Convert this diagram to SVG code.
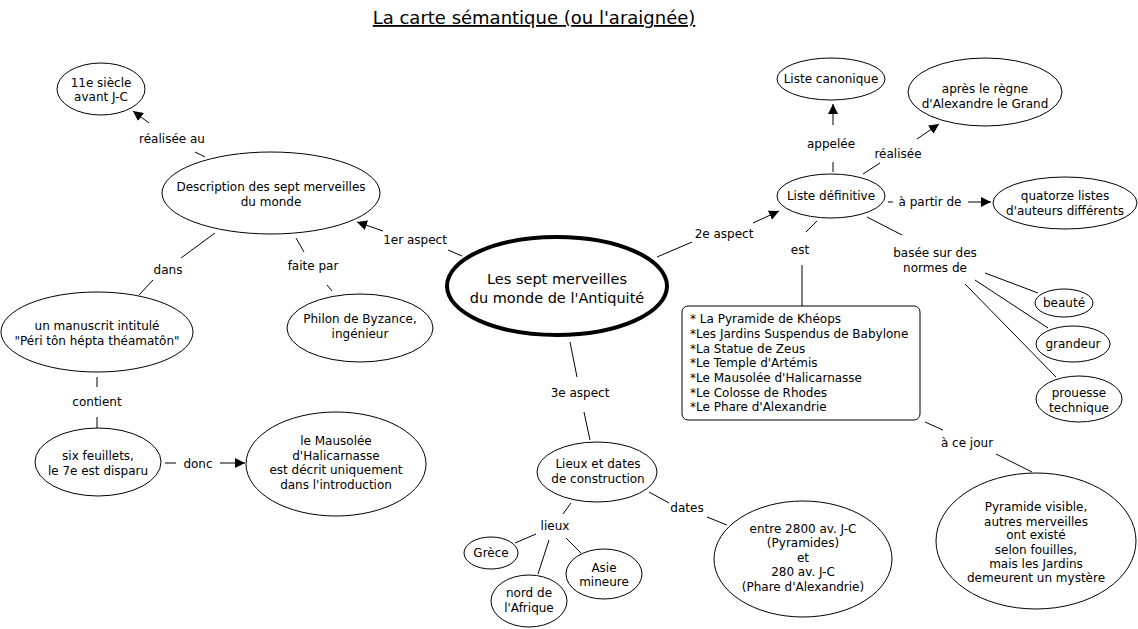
<svg xmlns="http://www.w3.org/2000/svg" width="1138" height="629" viewBox="0 0 1138 629">
<style>
text{font-family:"DejaVu Sans",Verdana,sans-serif;font-size:12px;fill:#000;text-anchor:middle}
.n{fill:#fff;stroke:#000;stroke-width:1}
.c line{stroke:#000;stroke-width:1}
.lst text{text-anchor:start}
</style>
<defs>
<marker id="ah" viewBox="0 0 10 10" refX="10" refY="5" markerWidth="10" markerHeight="10" markerUnits="userSpaceOnUse" orient="auto"><path d="M0,0 L10,5 L0,10 z" fill="#000"/></marker>
</defs>
<rect width="1138" height="629" fill="#fff"/>
<g id="title"><text x="534" y="24" style="font-size:18px;text-decoration:underline">La carte sémantique (ou l'araignée)</text></g>
<g class="c" id="connectors">
<line x1="149" y1="123" x2="133" y2="111" marker-end="url(#ah)"/>
<line x1="195" y1="152" x2="205" y2="157"/>
<line x1="383" y1="231" x2="357" y2="222" marker-end="url(#ah)"/>
<line x1="448" y1="250" x2="462" y2="256"/>
<line x1="215" y1="233" x2="181" y2="258"/>
<line x1="153" y1="280" x2="139" y2="295"/>
<line x1="296" y1="238" x2="304" y2="252"/>
<line x1="327" y1="285" x2="332" y2="291"/>
<line x1="97" y1="377" x2="97" y2="387"/>
<line x1="97" y1="417" x2="97" y2="429"/>
<line x1="165" y1="463" x2="176" y2="463"/>
<line x1="220" y1="463" x2="245" y2="463" marker-end="url(#ah)"/>
<line x1="833" y1="125" x2="833" y2="104" marker-end="url(#ah)"/>
<line x1="833" y1="162" x2="833" y2="172"/>
<line x1="917" y1="139" x2="939" y2="124" marker-end="url(#ah)"/>
<line x1="863" y1="174" x2="880" y2="163"/>
<line x1="888" y1="202" x2="893" y2="202"/>
<line x1="968" y1="202" x2="991" y2="202" marker-end="url(#ah)"/>
<line x1="753" y1="223" x2="779" y2="211" marker-end="url(#ah)"/>
<line x1="657" y1="257" x2="692" y2="242"/>
<line x1="817" y1="221" x2="806" y2="232"/>
<line x1="802" y1="265" x2="802" y2="306"/>
<line x1="867" y1="217" x2="902" y2="235"/>
<line x1="985" y1="273" x2="1038" y2="293"/>
<line x1="975" y1="280" x2="1048" y2="328"/>
<line x1="965" y1="284" x2="1056" y2="377"/>
<line x1="925" y1="422" x2="943" y2="430"/>
<line x1="996" y1="454" x2="1032" y2="472"/>
<line x1="570" y1="342" x2="577" y2="377"/>
<line x1="584" y1="412" x2="590" y2="440"/>
<line x1="649" y1="492" x2="669" y2="503"/>
<line x1="707" y1="517" x2="727" y2="525"/>
<line x1="571" y1="503" x2="563" y2="514"/>
<line x1="536" y1="534" x2="515" y2="543"/>
<line x1="549" y1="540" x2="538" y2="574"/>
<line x1="566" y1="538" x2="581" y2="553"/>
</g>
<g id="labels">
<text x="172" y="143">réalisée au</text>
<text x="415" y="244">1er aspect</text>
<text x="168" y="274">dans</text>
<text x="313" y="270">faite par</text>
<text x="97" y="406">contient</text>
<text x="198" y="468">donc</text>
<text x="831" y="148">appelée</text>
<text x="898" y="158">réalisée</text>
<text x="930" y="206">à partir de</text>
<text x="724" y="238">2e aspect</text>
<text x="800" y="254">est</text>
<text x="935" y="257">basée sur des</text>
<text x="935" y="272">normes de</text>
<text x="967" y="447">à ce jour</text>
<text x="580" y="397">3e aspect</text>
<text x="687" y="512">dates</text>
<text x="555" y="530">lieux</text>
</g>
<g id="central"><ellipse class="n" cx="557" cy="286" rx="110" ry="49" style="stroke-width:4"/><text x="557" y="284" style="font-size:14.5px">Les sept merveilles</text><text x="557" y="303" style="font-size:14.5px">du monde de l'Antiquité</text></g>
<g id="siecle"><ellipse class="n" cx="101" cy="89" rx="44" ry="26"/><text x="101" y="87">11e siècle</text><text x="101" y="101">avant J-C</text></g>
<g id="description"><ellipse class="n" cx="271" cy="193" rx="109" ry="41"/><text x="271" y="191">Description des sept merveilles</text><text x="271" y="206">du monde</text></g>
<g id="manuscrit"><ellipse class="n" cx="97" cy="332" rx="96" ry="40"/><text x="97" y="330">un manuscrit intitulé</text><text x="97" y="345">"Péri tôn hépta théamatôn"</text></g>
<g id="philon"><ellipse class="n" cx="360" cy="328" rx="73" ry="34"/><text x="360" y="323">Philon de Byzance,</text><text x="360" y="338">ingénieur</text></g>
<g id="feuillets"><ellipse class="n" cx="98" cy="462" rx="63" ry="34"/><text x="98" y="460">six feuillets,</text><text x="98" y="475">le 7e est disparu</text></g>
<g id="mausolee"><ellipse class="n" cx="336" cy="464" rx="90" ry="52"/><text x="336" y="445">le Mausolée</text><text x="336" y="460">d'Halicarnasse</text><text x="336" y="474">est décrit uniquement</text><text x="336" y="489">dans l'introduction</text></g>
<g id="canonique"><ellipse class="n" cx="831" cy="79" rx="54" ry="21"/><text x="831" y="83">Liste canonique</text></g>
<g id="regne"><ellipse class="n" cx="985" cy="92" rx="77" ry="34"/><text x="985" y="93">après le règne</text><text x="985" y="108">d'Alexandre le Grand</text></g>
<g id="definitive"><ellipse class="n" cx="831" cy="196" rx="54" ry="22"/><text x="831" y="200">Liste définitive</text></g>
<g id="quatorze"><ellipse class="n" cx="1065" cy="203" rx="72" ry="26"/><text x="1065" y="200">quatorze listes</text><text x="1065" y="215">d'auteurs différents</text></g>
<g id="liste" class="lst"><rect class="n" x="682" y="306" width="238" height="114" rx="6"/>
<text x="690" y="323">* La Pyramide de Khéops</text>
<text x="690" y="338">*Les Jardins Suspendus de Babylone</text>
<text x="690" y="353">*La Statue de Zeus</text>
<text x="690" y="367">*Le Temple d'Artémis</text>
<text x="690" y="382">*Le Mausolée d'Halicarnasse</text>
<text x="690" y="397">*Le Colosse de Rhodes</text>
<text x="690" y="411">*Le Phare d'Alexandrie</text></g>
<g id="beaute"><ellipse class="n" cx="1064" cy="303" rx="29" ry="14"/><text x="1064" y="307">beauté</text></g>
<g id="grandeur"><ellipse class="n" cx="1073" cy="344" rx="37" ry="18"/><text x="1073" y="348">grandeur</text></g>
<g id="prouesse"><ellipse class="n" cx="1079" cy="399" rx="43" ry="23"/><text x="1079" y="397">prouesse</text><text x="1079" y="412">technique</text></g>
<g id="pyramide"><ellipse class="n" cx="1036" cy="541" rx="100" ry="68"/><text x="1036" y="511">Pyramide visible,</text><text x="1036" y="526">autres merveilles</text><text x="1036" y="539">ont existé</text><text x="1036" y="554">selon fouilles,</text><text x="1036" y="568">mais les Jardins</text><text x="1036" y="582">demeurent un mystère</text></g>
<g id="lieuxdates"><ellipse class="n" cx="597" cy="472" rx="60" ry="30"/><text x="598" y="468">Lieux et dates</text><text x="598" y="483">de construction</text></g>
<g id="entre"><ellipse class="n" cx="803" cy="559" rx="89" ry="58"/><text x="803" y="533">entre 2800 av. J-C</text><text x="803" y="547">(Pyramides)</text><text x="803" y="562">et</text><text x="803" y="576">280 av. J-C</text><text x="803" y="591">(Phare d'Alexandrie)</text></g>
<g id="grece"><ellipse class="n" cx="491" cy="553" rx="27" ry="16"/><text x="491" y="557">Grèce</text></g>
<g id="nord"><ellipse class="n" cx="529" cy="601" rx="38" ry="26"/><text x="529" y="597">nord de</text><text x="529" y="612">l'Afrique</text></g>
<g id="asie"><ellipse class="n" cx="604" cy="574" rx="38" ry="25"/><text x="604" y="572">Asie</text><text x="604" y="586">mineure</text></g>
</svg>
